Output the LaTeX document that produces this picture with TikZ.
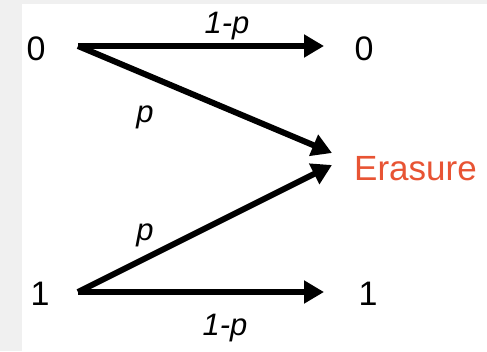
\documentclass[tikz,border=0pt]{standalone}
\usepackage{fontspec}
\setmainfont{Liberation Sans}
\usetikzlibrary{arrows.meta}
\definecolor{bggray}{RGB}{240,240,240}
\definecolor{erasured}{RGB}{232,84,52}
\begin{document}
\begin{tikzpicture}[x=1pt,y=-1pt,
  sym/.style={inner sep=0pt,anchor=base,font=\fontsize{34}{40}\selectfont},
  prob/.style={inner sep=0pt,anchor=base,font=\fontsize{31}{36}\selectfont\itshape},
  chan/.style={line width=6pt,-{Triangle[length=20pt,width=22pt]}}]
\fill[bggray] (0,0) rectangle (487,351);
\fill[white] (22,4) rectangle (487,351);
\useasboundingbox (0,0) rectangle (487,351);
% symbols
\node[sym] (in0) at (36,60) {0};
\node[sym] (in1) at (40,305) {1};
\node[sym] (out0) at (364,60) {0};
\node[sym] (out1) at (368,305) {1};
\node[sym,anchor=base west,text=erasured,font=\fontsize{35}{40}\selectfont] (er) at (354,180) {Erasure};
% connector endpoints
\coordinate (s0) at (78,46);
\coordinate (s1) at (78,292);
\coordinate (t0) at (324,46);
\coordinate (t1) at (324,292);
\coordinate (te0) at (332,153);
\coordinate (te1) at (332,165);
% connectors
\draw[chan] (s0) -- (t0);
\draw[chan] (s0) -- (te0);
\draw[chan] (s1) -- (te1);
\draw[chan] (s1) -- (t1);
% labels
\node[prob] (l00) at (227,33) {1-p};
\node[prob] (l0e) at (145,122) {p};
\node[prob] (l1e) at (145,240) {p};
\node[prob] (l11) at (225,335) {1-p};
\end{tikzpicture}
\end{document}
